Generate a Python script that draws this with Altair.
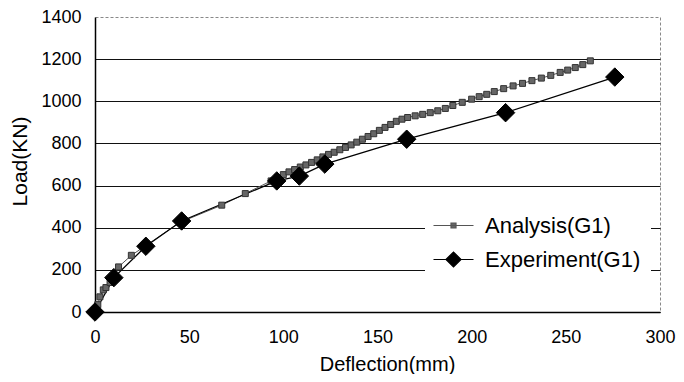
import altair as alt
import pandas as pd

# Analysis(G1) series
ana_x = [0, 1.5, 2.6, 4.4, 5.8, 8, 10, 12.5, 19.3, 27, 45, 67.3, 79.8, 93.5, 97, 100,
         103, 106, 109, 112, 115, 118, 121, 124, 127, 130, 133, 136, 139, 142, 145,
         148, 151, 154, 157, 160, 163, 166, 170, 174, 178, 182, 186, 190, 195, 200,
         204, 208, 212, 217, 222, 227, 232, 237, 242, 247, 251, 255, 259, 263]
ana_y = [0, 35, 72, 105, 116, 140, 165, 214, 269, 315, 425, 507, 562, 622, 638, 652,
         665, 676, 688, 698, 710, 722, 736, 748, 758, 770, 781, 793, 806, 820, 833,
         846, 862, 876, 890, 905, 915, 923, 931, 938, 946, 955, 966, 980, 995, 1010,
         1022, 1033, 1046, 1060, 1073, 1085, 1098, 1110, 1123, 1137, 1148, 1160, 1174, 1192]

# Experiment(G1) series
exp_x = [0, 10, 27, 46, 96.5, 108.5, 122, 165.5, 218, 276]
exp_y = [0, 163, 312, 432, 622, 645, 702, 820, 946, 1115]

series_names = ["Analysis(G1)", "Experiment(G1)"]
x_ticks = [0, 50, 100, 150, 200, 250, 300]
y_ticks = [0, 200, 400, 600, 800, 1000, 1200, 1400]

df = pd.DataFrame({
    "x": ana_x + exp_x,
    "y": ana_y + exp_y,
    "series": [series_names[0]] * len(ana_x) + [series_names[1]] * len(exp_x),
})

FONT = "Liberation Sans"

xenc = alt.X("x:Q", scale=alt.Scale(domain=[0, 300], nice=False),
             axis=alt.Axis(values=x_ticks, grid=False, ticks=False, tickSize=0,
                           domainColor="#000", domainWidth=1.5,
                           labelFont=FONT, labelFontSize=18, labelColor="#000",
                           labelPadding=16, labelFlush=False, format="d",
                           title="Deflection(mm)", titleFont=FONT, titleFontSize=20,
                           titleFontWeight="normal", titleColor="#000",
                           titleX=292, titleY=58, titleBaseline="alphabetic",
                           titleAlign="center"))
yenc = alt.Y("y:Q", scale=alt.Scale(domain=[0, 1400], nice=False),
             axis=alt.Axis(values=y_ticks, grid=True, gridColor="#111", gridWidth=1.2,
                           gridOpacity={"condition": {"test": "datum.value >= 1400", "value": 0}, "value": 1},
                           ticks=False, tickSize=0,
                           domainColor="#000", domainWidth=1.5,
                           labelFont=FONT, labelFontSize=18, labelColor="#000",
                           labelPadding=14, labelFlush=False, format="d",
                           title="Load(KN)", titleFont=FONT, titleFontSize=21,
                           titleFontWeight="normal", titleColor="#000",
                           titleAngle=270, titleX=-75, titleY=144,
                           titleBaseline="middle", titleAlign="center"))

base = alt.Chart(df)

ANA_LINE, EXP_LINE = "#555555", "#000000"
ANA_FILL, EXP_FILL = "#666666", "#000000"
ANA_STROKE, EXP_STROKE = "#333333", "#000000"
legend_paths = ["M-1.143,0H1.143M-0.143,-0.143H0.143V0.143H-0.143Z",
                "M-1.143,0H1.143M-0.43,0L0,-0.43L0.43,0L0,0.43Z"]

leg = alt.Legend(
    title=None, orient="none", legendX=330, legendY=180,
    fillColor="white", padding=10, rowPadding=4,
    labelFont=FONT, labelFontSize=22, labelColor="#000",
    labelOffset=13, labelLimit=300,
    symbolSize=1225, symbolStrokeWidth=1.2, symbolOpacity=1,
)

ana = base.transform_filter(alt.datum.series == series_names[0])
exp = base.transform_filter(alt.datum.series == series_names[1])

ana_line = ana.mark_line(strokeWidth=1, color=ANA_LINE).encode(x=xenc, y=yenc)
exp_line = exp.mark_line(strokeWidth=1.3, color=EXP_LINE).encode(x="x:Q", y="y:Q")

ana_pts = ana.mark_point(filled=True, opacity=1, strokeWidth=1, shape="square", size=36,
                         fill=ANA_FILL, stroke=ANA_STROKE).encode(x="x:Q", y="y:Q")
exp_pts = exp.mark_point(filled=True, opacity=1, strokeWidth=1, shape="diamond", size=340,
                         fill=EXP_FILL, stroke=EXP_STROKE).encode(x="x:Q", y="y:Q")

# legend-only layer: no rows reach it, the scales' explicit domains make the entries
legend_layer = base.transform_filter("false").mark_point(filled=True, opacity=1).encode(
    x="x:Q", y="y:Q",
    shape=alt.Shape("series:N", scale=alt.Scale(domain=series_names, range=legend_paths), legend=leg),
    fill=alt.Fill("series:N", scale=alt.Scale(domain=series_names, range=[ANA_FILL, EXP_FILL]), legend=leg),
    stroke=alt.Stroke("series:N", scale=alt.Scale(domain=series_names, range=[ANA_LINE, EXP_STROKE]), legend=leg),
)

chart = alt.layer(ana_line, exp_line, ana_pts, exp_pts, legend_layer).properties(
    width=565, height=295,
    autosize=alt.AutoSizeParams(type="none"),
    padding={"left": 87, "top": 9, "right": 16, "bottom": 62},
    background="white",
).configure_view(stroke="#888888", strokeDash=[3, 2], strokeWidth=1)

chart.save("out.html", embed_options={"renderer": "svg", "actions": False})
